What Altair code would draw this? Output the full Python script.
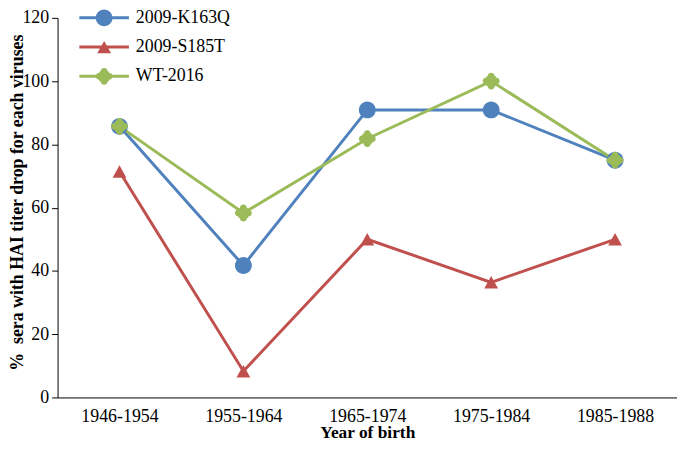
import altair as alt
import pandas as pd

years = ["1946-1954", "1955-1964", "1965-1974", "1975-1984", "1985-1988"]
series_names = ["2009-K163Q", "2009-S185T", "WT-2016"]
k163q = [85.7, 41.7, 90.9, 90.9, 75.0]
s185t = [71.4, 8.3, 50.0, 36.4, 50.0]
wt2016 = [85.7, 58.3, 81.8, 100.0, 75.0]
colors = ["#4F81BD", "#C0504D", "#9BBB59"]
y_ticks = [0, 20, 40, 60, 80, 100, 120]

rows = []
for name, vals in zip(series_names, [k163q, s185t, wt2016]):
    for yr, v in zip(years, vals):
        rows.append({"year": yr, "series": name, "value": v})
df = pd.DataFrame(rows)


def circle(cx, cy, r):
    return (f"M{cx - r},{cy} A{r},{r} 0 1 1 {cx + r},{cy} "
            f"A{r},{r} 0 1 1 {cx - r},{cy} Z")


def tri(w, h):
    return f"M0,{-h} L{w},{h} L{-w},{h} Z"


def clover(s):
    a = 0.58 * s
    r = 0.42 * s
    p = f"M{-a},{-a} L{a},{-a} L{a},{a} L{-a},{a} Z "
    p += circle(0, -a, r) + " " + circle(0, a, r) + " "
    p += circle(-a, 0, r) + " " + circle(a, 0, r)
    return p


# chart markers: unit box maps to 17 px
marker_paths = [circle(0, 0, 1), tri(0.82, 0.74), clover(1.0)]
# legend symbols: 1 unit = 10 px (symbolSize 400)
seg = "M-2.5,-0.15 L2.5,-0.15 L2.5,0.15 L-2.5,0.15 Z "
legend_paths = [seg + circle(0, 0, 0.85), seg + tri(0.7, 0.62), seg + clover(0.85)]

FONT = "Liberation Serif"

x_enc = alt.X(
    "year:O",
    sort=years,
    scale=alt.Scale(type="point", padding=0.5, domain=years),
    axis=alt.Axis(
        title="Year of birth",
        labelAngle=0,
        ticks=False,
        labelPadding=10,
        labelFontSize=18,
        labelFont=FONT,
        labelColor="black",
        titleFont=FONT,
        titleFontSize=17.5,
        titleFontWeight="bold",
        titleColor="black",
        titleBaseline="alphabetic",
        titleY=40,
        domainColor="black",
        domainWidth=1,
    ),
)
y_enc = alt.Y(
    "value:Q",
    scale=alt.Scale(domain=[0, 120], nice=False, zero=True),
    axis=alt.Axis(
        title="%\u00a0 sera with HAI titer drop for each viruses",
        values=y_ticks,
        grid=False,
        tickSize=6,
        tickColor="black",
        labelPadding=3,
        labelFontSize=18,
        labelFont=FONT,
        labelColor="black",
        titleFont=FONT,
        titleFontSize=18,
        titleFontWeight="bold",
        titleColor="black",
        titleAngle=-90,
        titleBaseline="middle",
        titleAlign="center",
        titleX=-40,
        titleY=186,
        domainColor="black",
        domainWidth=1,
    ),
)
color_scale = alt.Scale(domain=series_names, range=colors)

base = alt.Chart(df)

lines = base.mark_line(strokeWidth=3).encode(
    x=x_enc,
    y=y_enc,
    color=alt.Color("series:N", scale=color_scale, legend=None),
    order=alt.Order("year:O"),
)

points = base.mark_point(filled=True, opacity=1, size=289).encode(
    x=x_enc,
    y=y_enc,
    color=alt.Color("series:N", scale=color_scale, legend=None),
    shape=alt.Shape("series:N", scale=alt.Scale(domain=series_names, range=marker_paths), legend=None),
)

leg = alt.Legend(
    title=None,
    orient="none",
    legendX=37,
    legendY=-10,
    symbolSize=400,
    symbolStrokeWidth=0,
    symbolOpacity=1,
    labelFont=FONT,
    labelFontSize=18,
    labelColor="black",
    labelOffset=22,
    rowPadding=10.5,
)

legend_layer = base.mark_point(filled=True, opacity=0, size=289).encode(
    x=x_enc,
    y=y_enc,
    color=alt.Color("series:N", scale=color_scale, legend=leg),
    shape=alt.Shape("series:N", scale=alt.Scale(domain=series_names, range=legend_paths), legend=leg),
)

chart = (
    alt.layer(lines, points, legend_layer)
    .resolve_scale(color="independent", shape="independent")
    .properties(
        width=625,
        height=383,
        autosize=alt.AutoSizeParams(type="none"),
        padding={"left": 50, "top": 8, "right": 0, "bottom": 42},
        background="white",
    )
    .configure_view(stroke=None)
)

chart.save("out.html", embed_options={"renderer": "svg", "actions": False})
